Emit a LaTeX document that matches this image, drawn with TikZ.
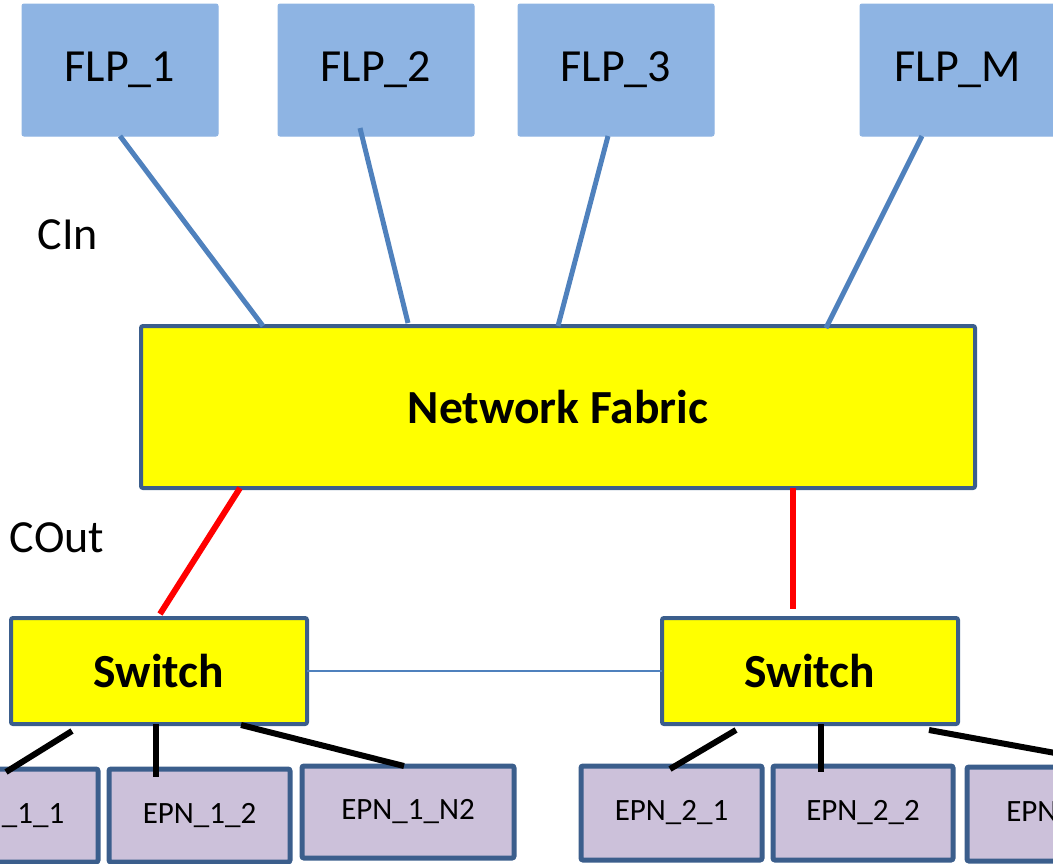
\documentclass[tikz,border=0pt]{standalone}
\usepackage{fontspec}
\setmainfont{Carlito}
\usetikzlibrary{calc}
\definecolor{flpblue}{HTML}{8EB4E3}
\definecolor{edgeblue}{HTML}{3B5E8C}
\definecolor{linkblue}{HTML}{4F81BD}
\definecolor{epnfill}{HTML}{CCC1DA}
\definecolor{hotred}{HTML}{FF0000}
\definecolor{hubyellow}{HTML}{FFFF00}
\begin{document}
\begin{tikzpicture}[x=1pt,y=-1pt,
  box/.style={anchor=north west,inner sep=0pt,outer sep=0pt,rounded corners=2pt},
  flpbox/.style={box,fill=flpblue,draw=flpblue,line width=1pt,
    font=\fontsize{46}{50}\selectfont},
  hubbox/.style={box,fill=hubyellow,draw=edgeblue,line width=4pt,
    font=\fontsize{47.5}{52}\selectfont\bfseries},
  epnbox/.style={box,fill=epnfill,draw=edgeblue,line width=5pt,
    font=\fontsize{31}{36}\selectfont},
  lbl/.style={inner sep=0pt,font=\fontsize{46}{50}\selectfont},
  uplink/.style={draw=linkblue,line width=5pt},
  downlink/.style={draw=hotred,line width=6pt},
  leaflink/.style={draw=black,line width=6pt},
  peerlink/.style={draw=linkblue,line width=1.5pt},
]
\useasboundingbox (0,0) rectangle (1053,863);
\clip (0,0) rectangle (1053,863);

% FLP nodes
\node[flpbox,minimum width=196pt,minimum height=132pt] (flp1) at (22,4)  {FLP\_1};
\node[flpbox,minimum width=196pt,minimum height=132pt] (flp2) at (278,4) {FLP\_2};
\node[flpbox,minimum width=196pt,minimum height=132pt] (flp3) at (518,4) {FLP\_3};
\node[flpbox,minimum width=196pt,minimum height=132pt] (flp4) at (860,4) {FLP\_M};

% fabric and switches
\node[hubbox,minimum width=834pt,minimum height=162pt] (fab) at (141,326) {Network Fabric};
\node[hubbox,minimum width=296pt,minimum height=106pt] (swL) at (11,618)  {Switch};
\node[hubbox,minimum width=296pt,minimum height=106pt] (swR) at (662,618) {Switch};

% EPN nodes
\node[epnbox,minimum width=181pt,minimum height=93pt] (e11) at (-83,769) {EPN\_1\_1};
\node[epnbox,minimum width=181pt,minimum height=93pt] (e12) at (109,769) {EPN\_1\_2};
\node[epnbox,minimum width=212pt,minimum height=92pt] (e1n) at (302,766) {EPN\_1\_N2};
\node[epnbox,minimum width=181pt,minimum height=94pt] (e21) at (581,766) {EPN\_2\_1};
\node[epnbox,minimum width=180pt,minimum height=94pt] (e22) at (773,766) {EPN\_2\_2};
\node[epnbox,minimum width=212pt,minimum height=94pt] (e2n) at (967,767) {EPN\_2\_N2};

% side labels
\node[lbl] (cin)  at (68,235) {CIn};
\node[lbl] (cout) at (57,538) {COut};

% FLP -> fabric links
\draw[uplink] (flp1.south) -- ($(fab.north west)+(122,0)$);
\draw[uplink] ($(flp2.south west)+(82,-8)$) -- ($(fab.north west)+(267,-3)$);
\draw[uplink] ($(flp3.south west)+(90,0)$) -- ($(fab.north west)+(417,0)$);
\draw[uplink] ($(flp4.south west)+(62,0)$) -- ($(fab.north west)+(685,2)$);

% fabric -> switch links
\draw[downlink] ($(fab.south west)+(99,0)$) -- ($(swL.north west)+(149,-4)$);
\draw[downlink] ($(fab.south west)+(652,0)$) -- ($(swR.north west)+(131,-9)$);

% switch to switch
\draw[peerlink] (swL.east) -- (swR.west);

% switch -> EPN links
\draw[leaflink] ($(swL.south west)+(61,7)$) -- ($(e11.north west)+(89,3)$);
\draw[leaflink] ($(swL.south west)+(145,0)$) -- ($(e12.north west)+(47,8)$);
\draw[leaflink] ($(swL.south west)+(230,1)$) -- ($(e1n.north west)+(102,0)$);
\draw[leaflink] ($(swR.south west)+(74,6)$) -- ($(e21.north west)+(89,3)$);
\draw[leaflink] ($(swR.south west)+(159,0)$) -- ($(e22.north west)+(48,6)$);
\draw[leaflink] ($(swR.south west)+(267,6)$) -- ($(e2n.north west)+(165,0)$);
\end{tikzpicture}
\end{document}
